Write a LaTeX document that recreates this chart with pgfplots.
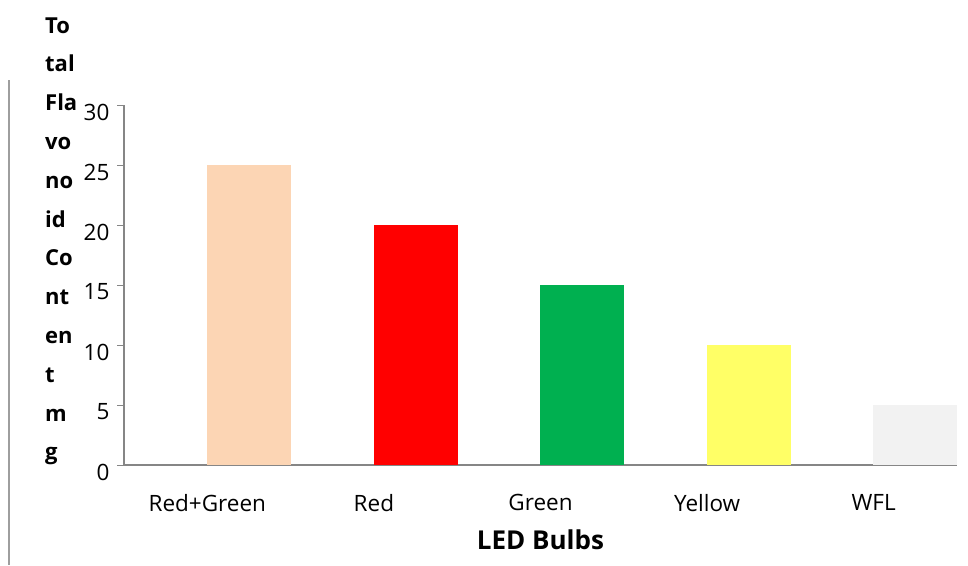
\documentclass[border=0pt]{standalone}
\usepackage{pgfplots}
\pgfplotsset{compat=1.18}
\usepackage{fontspec}
\setmainfont{Open Sans}
\definecolor{axgray}{HTML}{868686}
\definecolor{cpeach}{HTML}{FCD5B4}
\definecolor{cred}{HTML}{FF0000}
\definecolor{cgreen}{HTML}{00B050}
\definecolor{cyellow}{HTML}{FFFF66}
\definecolor{cgrey}{HTML}{F2F2F2}
\begin{document}
\begin{tikzpicture}[x=1pt,y=1pt]
\useasboundingbox (0,0) rectangle (968,-565);
\draw[color=axgray!80, line width=1.3pt] (9,-80) -- (9,-565);
\begin{axis}[
  at={(124pt,-465pt)}, anchor=south west,
  scale only axis, width=833pt, height=360pt,
  xmin=-0.5, xmax=4.5, ymin=0, ymax=30,
  axis x line*=bottom, axis y line*=left,
  axis line style={axgray, line width=1.2pt},
  ytick={0,5,...,30}, xtick={0,1,2,3,4},
  xticklabels={Red+Green,Red,Green,Yellow,WFL},
  x tick style={draw=none},
  y tick style={axgray, line width=1pt},
  tick align=outside, major tick length=7pt,
  /pgf/number format/assume math mode=true,
  yticklabel style={font=\fontsize{22.5}{22.5}\selectfont, text=black, yshift=-7pt, xshift=-4pt},
  xticklabel style={font=\fontsize{22.5}{22.5}\selectfont, text=black, yshift=-19pt},
  xlabel={LED Bulbs},
  xlabel style={at={(axis description cs:0.5,0)}, anchor=center, yshift=-75pt, font=\bfseries\fontsize{26}{26}\selectfont},
  ybar, bar width=84pt, bar shift=0pt,
  clip=false,
]
\addplot[draw=none, fill=cpeach] coordinates {(0.25,25)};
\addplot[draw=none, fill=cred] coordinates {(1.25,20)};
\addplot[draw=none, fill=cgreen] coordinates {(2.25,15)};
\addplot[draw=none, fill=cyellow] coordinates {(3.25,10)};
\addplot[draw=none, fill=cgrey] coordinates {(4.25,5)};
\end{axis}
\foreach \t [count=\i from 0] in {To,tal,Fla,vo,no,id,Co,nt,en,t,m,g}
  \node[anchor=base west, inner sep=0pt, font=\bfseries\fontsize{22}{22}\selectfont] at (45,{-33-38.8*\i}) {\t};
\end{tikzpicture}
\end{document}
